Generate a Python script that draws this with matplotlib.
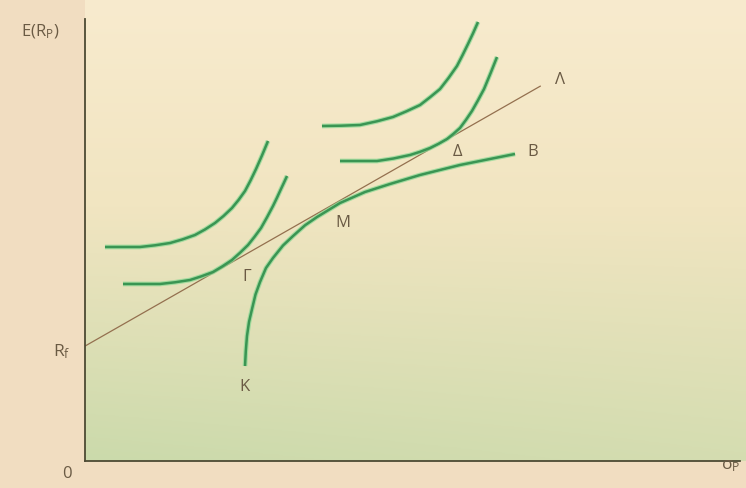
import numpy as np
import matplotlib.pyplot as plt

plt.rcParams['font.family'] = ['Open Sans', 'DejaVu Sans']
plt.rcParams['mathtext.fontset'] = 'custom'
plt.rcParams['mathtext.rm'] = 'Open Sans'
plt.rcParams['mathtext.it'] = 'Open Sans'

# capital market line from Rf
cml_sigma = [0.0, 6.95]
cml_return = [2.60, 8.48]

# efficient frontier K - M - B
frontier_sigma = [2.443, 2.455, 2.473, 2.504, 2.550, 2.603, 2.672, 2.763, 2.870, 3.023,
                  3.176, 3.359, 3.542, 3.893, 4.275, 4.656, 5.115, 5.725, 6.565]
frontier_return = [2.149, 2.489, 2.828, 3.145, 3.439, 3.767, 4.050, 4.367, 4.593, 4.876,
                   5.090, 5.333, 5.520, 5.837, 6.086, 6.267, 6.471, 6.697, 6.946]

# indifference curves, left pair (touching at Γ) and right pair (touching at Δ)
u1_sigma = [0.305, 0.840, 1.069, 1.298, 1.489, 1.679, 1.832, 1.985, 2.115, 2.244,
            2.344, 2.443, 2.527, 2.611, 2.702, 2.794]
u1_return = [4.842, 4.842, 4.880, 4.932, 5.014, 5.113, 5.238, 5.385, 5.543, 5.724,
             5.905, 6.109, 6.346, 6.606, 6.912, 7.240]
u2_sigma = [0.580, 1.145, 1.374, 1.603, 1.779, 1.954, 2.099, 2.244, 2.366, 2.489,
            2.588, 2.687, 2.779, 2.870, 2.931, 2.992, 3.038, 3.084]
u2_return = [4.005, 4.005, 4.043, 4.095, 4.179, 4.276, 4.405, 4.548, 4.710, 4.887,
             5.072, 5.271, 5.514, 5.769, 5.957, 6.154, 6.299, 6.448]
u3_sigma = [3.618, 3.908, 4.198, 4.458, 4.702, 4.908, 5.115, 5.267, 5.420, 5.550,
            5.679, 5.763, 5.847, 5.924, 6.000]
u3_return = [7.579, 7.586, 7.602, 7.686, 7.783, 7.912, 8.054, 8.229, 8.416, 8.665,
             8.937, 9.179, 9.434, 9.676, 9.932]
u4_sigma = [3.893, 4.458, 4.710, 4.962, 5.115, 5.267, 5.397, 5.527, 5.626, 5.725,
            5.817, 5.908, 6.000, 6.092, 6.191, 6.290]
u4_return = [6.787, 6.787, 6.844, 6.923, 6.995, 7.081, 7.176, 7.285, 7.403, 7.534,
             7.719, 7.919, 8.161, 8.416, 8.771, 9.140]

point_labels = ['Γ', 'M', 'K', 'Δ', 'B', 'Λ']
label_sigma = [2.47, 3.94, 2.44, 5.69, 6.84, 7.25]
label_return = [4.19, 5.41, 1.70, 7.01, 7.01, 8.64]

text_col = '#6a5a44'
axis_col = '#4d4a34'

fig = plt.figure(figsize=(7.46, 4.89), dpi=100)
fig.patch.set_facecolor('#f1ddc1')
ax = fig.add_axes([85 / 746, 27 / 489, 661 / 746, 462 / 489])
xmax, ymax = 661 / 65.5, 462 / 44.2
ax.set_xlim(0, xmax)
ax.set_ylim(0, ymax)

# paper tint: cream at the top fading into pale green near the x axis
ny, nx = 200, 60
yy = np.linspace(1, 0, ny)[:, None, None]
xx = np.linspace(0, 1, nx)[None, :, None]
top = np.array([248, 235, 206]) / 255
mid = np.array([241, 229, 193]) / 255
bot = np.array([203, 218, 171]) / 255
t_low = np.clip((0.55 - yy) / 0.55, 0, 1) * (1 - 0.25 * xx)
t_high = np.clip((yy - 0.55) / 0.45, 0, 1)
img = mid * (1 - t_low) + bot * t_low
img = img * (1 - t_high) + top * t_high
ax.imshow(img, extent=[0, xmax, 0, ymax], aspect='auto', zorder=0)

for side in ['top', 'right']:
    ax.spines[side].set_visible(False)
for side in ['left', 'bottom']:
    ax.spines[side].set_bounds(0, 10)
    ax.spines[side].set_color(axis_col)
    ax.spines[side].set_linewidth(1.3)
ax.set_xticks([])
ax.set_yticks([])

ax.plot(cml_sigma, cml_return, color='#94704f', lw=0.9, zorder=2)

curves = [(frontier_sigma, frontier_return), (u1_sigma, u1_return), (u2_sigma, u2_return),
          (u3_sigma, u3_return), (u4_sigma, u4_return)]
for xs, ys in curves:
    ax.plot(xs, ys, color='#86d892', lw=3.4, alpha=0.7, solid_capstyle='butt',
            solid_joinstyle='round', zorder=3)
    ax.plot(xs, ys, color='#3a9553', lw=1.8, solid_capstyle='butt',
            solid_joinstyle='round', zorder=4)

for lab, x, y in zip(point_labels, label_sigma, label_return):
    ax.text(x, y, lab, color=text_col, fontsize=12, ha='center', va='center', zorder=5)

ax.text(-0.35, 2.49, r'$\mathrm{R_f}$', color=text_col, fontsize=12.5, ha='center',
        va='center', clip_on=False)
ax.text(-0.27, -0.27, '0', color=text_col, fontsize=12, ha='center', va='center',
        clip_on=False)
ax.text(-0.69, 9.73, r'$\mathrm{E(R_P)}$', color=text_col, fontsize=12, ha='center',
        va='center', clip_on=False)
ax.text(9.86, -0.09, r'$\mathrm{σ_P}$', color=text_col, fontsize=12.5, ha='center',
        va='center', clip_on=False)

fig.savefig('out.png', dpi=100, facecolor=fig.get_facecolor())
